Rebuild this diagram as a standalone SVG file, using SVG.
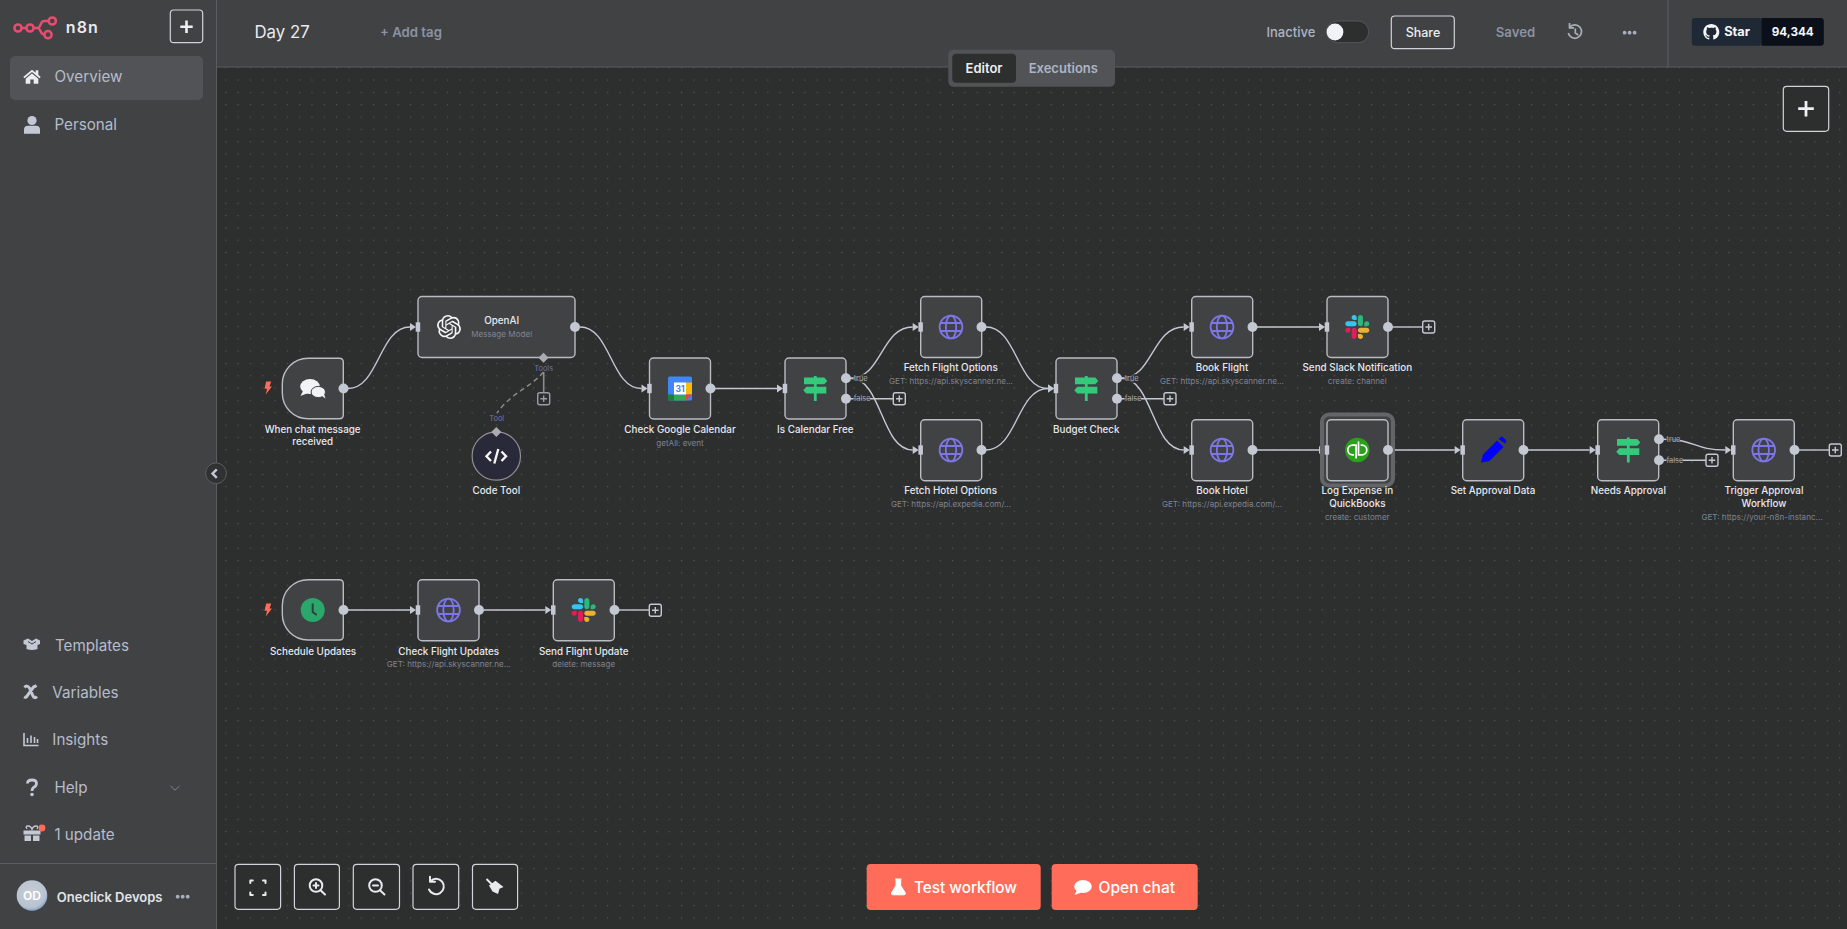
<svg xmlns="http://www.w3.org/2000/svg" width="1847" height="929" viewBox="0 0 1847 929">
<style>
text{font-family:Inter,"Liberation Sans",sans-serif}
.n{fill:#414244;stroke:#b9bcc3;stroke-width:1.4}
.l{font-size:9.85px;font-weight:500;fill:#e6e8ee;text-anchor:middle}
.s{font-size:8.1px;fill:#7f8594;text-anchor:middle}
.o{fill:#c4c8d2}
.h{fill:#c4c8d2}
.e{fill:none;stroke:#c4c8d2;stroke-width:1.4;marker-end:url(#tri)}
.p{fill:none;stroke:#c4c8d2;stroke-width:1.4}
.pb{fill:#2d2e2e;stroke:#c4c8d2;stroke-width:1.4}
.t{font-size:7.4px;fill:#a4a7b0}
.tb{fill:#2d2e2e;opacity:.75}
.m{font-size:15.2px;fill:#b6bccb}
.btn{fill:#2d2e2e;stroke:#d0d3d9;stroke-width:1.2}
.ic{fill:none;stroke:#e8eaf0;stroke-width:2;stroke-linecap:round;stroke-linejoin:round}
.si{fill:#c4c8d4}
</style>
<defs>
<pattern id="dots" x="225.2" y="79.5" width="12.32" height="12.32" patternUnits="userSpaceOnUse"><circle cx="0.6" cy="0.6" r="0.6" fill="#5f6063"/></pattern>
<marker id="tri" markerUnits="userSpaceOnUse" markerWidth="7" markerHeight="10" refX="0.5" refY="5" orient="auto"><path d="M0.5 1L6.5 5L0.5 9Z" fill="#c4c8d2"/></marker>
<radialGradient id="av" cx="0.45" cy="0.4" r="0.7"><stop offset="0" stop-color="#c9ccd2"/><stop offset="0.7" stop-color="#b8c3d2"/><stop offset="1" stop-color="#5a87b8"/></radialGradient>
<g id="i-sign" fill="#35c97c"><rect x="-1.4" y="-12.5" width="2.8" height="25"/><path d="M-11.3 -10.8Q-11.3 -11 -11 -11H9L12 -7.6L9 -4.3H-11Q-11.3 -4.3 -11.3 -4.6Z"/><path d="M11 -1.4Q11 -1.7 10.7 -1.7H-9L-12 1.7L-9 5H10.7Q11 5 11 4.7Z"/></g>
<g id="i-globe" fill="none" stroke="#7d76e6" stroke-width="1.8"><circle r="11.4"/><ellipse rx="5.2" ry="11.4"/><path d="M-10.6 -4H10.6M-10.6 4H10.6"/></g>
<g id="i-slack" transform="translate(-12,-12) scale(0.1954)"><path d="M25.8 77.6c0 7.1-5.8 12.9-12.9 12.9S0 84.7 0 77.6s5.8-12.9 12.9-12.9h12.9v12.9z" fill="#E01E5A"/><path d="M32.3 77.6c0-7.1 5.8-12.9 12.9-12.9s12.9 5.8 12.9 12.9v32.3c0 7.1-5.8 12.9-12.9 12.9s-12.9-5.8-12.9-12.9V77.6z" fill="#E01E5A"/><path d="M45.2 25.8c-7.1 0-12.9-5.8-12.9-12.9S38.1 0 45.2 0s12.9 5.8 12.9 12.9v12.9H45.2z" fill="#36C5F0"/><path d="M45.2 32.3c7.1 0 12.9 5.8 12.9 12.9s-5.8 12.9-12.9 12.9H12.9C5.8 58.1 0 52.3 0 45.2s5.8-12.9 12.9-12.9h32.3z" fill="#36C5F0"/><path d="M97 45.2c0-7.1 5.8-12.9 12.9-12.9s12.9 5.8 12.9 12.9-5.8 12.9-12.9 12.9H97V45.2z" fill="#2EB67D"/><path d="M90.5 45.2c0 7.1-5.8 12.9-12.9 12.9s-12.9-5.8-12.9-12.9V12.9C64.7 5.8 70.5 0 77.6 0s12.9 5.8 12.9 12.9v32.3z" fill="#2EB67D"/><path d="M77.6 97c7.1 0 12.9 5.8 12.9 12.9s-5.8 12.9-12.9 12.9-12.9-5.8-12.9-12.9V97h12.9z" fill="#ECB22E"/><path d="M77.6 90.5c-7.1 0-12.9-5.8-12.9-12.9s5.8-12.9 12.9-12.9h32.3c7.1 0 12.9 5.8 12.9 12.9s-5.8 12.9-12.9 12.9H77.6z" fill="#ECB22E"/></g>
<path id="i-bolt" d="M-1.5 -6.5H3.5L1.8 -1.5H4.2L-2 6.5L-0.6 0.8H-3.2Z" fill="#ff6d5a"/>
<g id="plus"><rect x="-6" y="-6" width="12" height="12" rx="2"/><path d="M-3.3 0H3.3M0 -3.3V3.3" fill="none"/></g>
</defs>

<rect id="canvas" x="216" y="67" width="1631" height="862" fill="#2d2e2e"/>
<rect x="216" y="67" width="1631" height="862" fill="url(#dots)"/>

<g id="connectors">
<path class="e" d="M348 388.5C379 388.5 379 327 410 327"/>
<path class="e" d="M580 327C611 327 610.5 388.5 641.5 388.5"/>
<path class="e" d="M715 388.5H777"/>
<path class="e" d="M850.5 378.3C882 378.3 881 327 912.7 327"/>
<path class="e" d="M850.5 378.3C882 378.3 881 450 912.7 450"/>
<path class="p" d="M850.5 398.7H893"/>
<path class="e" d="M986 327C1017 327 1017 388.5 1048 388.5"/>
<path class="e" d="M986 450C1017 450 1017 388.5 1048 388.5"/>
<path class="e" d="M1121.5 378.3C1153 378.3 1152 327 1183.7 327"/>
<path class="e" d="M1121.5 378.3C1153 378.3 1152 450 1183.7 450"/>
<path class="p" d="M1121.5 398.7H1164"/>
<path class="e" d="M1257 327H1319"/>
<path class="p" d="M1392.5 327H1422.5"/>
<path class="e" d="M1257 450H1319"/>
<path class="e" d="M1392.5 450H1454.7"/>
<path class="e" d="M1528 450H1589.7"/>
<path class="e" d="M1663.5 439.3C1695 439.3 1694 450 1725.3 450"/>
<path class="p" d="M1663.5 460.3H1706"/>
<path class="p" d="M1799 450H1829"/>
<path class="e" d="M348 610H410"/>
<path class="e" d="M484 610H545.3"/>
<path class="p" d="M619 610H649"/>
<path d="M543.7 372V392" fill="none" stroke="#8a8c92" stroke-width="1.6"/>
<path d="M543.5 372C530 388 512 392 497 413" fill="none" stroke="#8a8c92" stroke-width="1.4" stroke-dasharray="5 3.5"/>
<rect class="tb" x="853.5" y="374" width="13.5" height="9"/><text class="t" x="853.7" y="381">true</text>
<rect class="tb" x="853.5" y="394.4" width="16.5" height="9"/><text class="t" x="853.7" y="401.4">false</text>
<rect class="tb" x="1124.5" y="374" width="13.5" height="9"/><text class="t" x="1124.7" y="381">true</text>
<rect class="tb" x="1124.5" y="394.4" width="16.5" height="9"/><text class="t" x="1124.7" y="401.4">false</text>
<rect class="tb" x="1666.3" y="435" width="13.5" height="9"/><text class="t" x="1666.5" y="442">true</text>
<rect class="tb" x="1666.3" y="456" width="16.5" height="9"/><text class="t" x="1666.5" y="463">false</text>
<g fill="#2d2e2e" stroke="#9a9da4" stroke-width="1.4"><use href="#plus" x="543.7" y="398.7"/></g>
<g class="pb"><use href="#plus" x="899.3" y="398.7"/><use href="#plus" x="1170" y="398.7"/><use href="#plus" x="1428.7" y="327"/><use href="#plus" x="1712" y="460.3"/><use href="#plus" x="1835.3" y="450"/><use href="#plus" x="655.3" y="610.3"/></g>
<text x="543.7" y="371" text-anchor="middle" font-size="7.4" fill="#7472a8">Tools</text>
<text x="496.7" y="421" text-anchor="middle" font-size="7.4" fill="#7472a8">Tool</text>
</g>

<g id="node-chat">
<use href="#i-bolt" x="267.7" y="388"/>
<path class="n" d="M308 358.3H339.3Q343.3 358.3 343.3 362.3V414.7Q343.3 418.7 339.3 418.7H308A25.7 25.7 0 0 1 282.3 393V384A25.7 25.7 0 0 1 308 358.3Z"/>
<ellipse cx="310" cy="386.5" rx="9.8" ry="7.4" fill="#f2f3f6"/><path d="M303 391L300.5 396L308 393Z" fill="#f2f3f6"/>
<ellipse cx="318.3" cy="392" rx="7.2" ry="5.6" fill="#f2f3f6" stroke="#414244" stroke-width="1"/><path d="M322 396L325.5 398.5L324 394Z" fill="#f2f3f6"/>
<circle class="o" cx="343.5" cy="388.5" r="5"/>
<text class="l" x="312.7" y="433">When chat message</text><text class="l" x="312.7" y="445">received</text>
</g>
<g id="node-openai">
<rect class="n" x="418" y="296.5" width="157" height="61" rx="4"/>
<rect class="h" x="415.7" y="322.3" width="4.5" height="9.4"/>
<path transform="translate(437,315)" fill="#f4f5f7" d="M22.2819 9.8211a5.9847 5.9847 0 0 0-.5157-4.9108 6.0462 6.0462 0 0 0-6.5098-2.9A6.0651 6.0651 0 0 0 4.9807 4.1818a5.9847 5.9847 0 0 0-3.9977 2.9 6.0462 6.0462 0 0 0 .7427 7.0966 5.98 5.98 0 0 0 .511 4.9107 6.051 6.051 0 0 0 6.5146 2.9001A5.9847 5.9847 0 0 0 13.2599 24a6.0557 6.0557 0 0 0 5.7718-4.2058 5.9894 5.9894 0 0 0 3.9977-2.9001 6.0557 6.0557 0 0 0-.7475-7.0729zm-9.022 12.6081a4.4755 4.4755 0 0 1-2.8764-1.0408l.1419-.0804 4.7783-2.7582a.7948.7948 0 0 0 .3927-.6813v-6.7369l2.02 1.1686a.071.071 0 0 1 .038.052v5.5826a4.504 4.504 0 0 1-4.4945 4.4944zm-9.6607-4.1254a4.4708 4.4708 0 0 1-.5346-3.0137l.142.0852 4.783 2.7582a.7712.7712 0 0 0 .7806 0l5.8428-3.3685v2.3324a.0804.0804 0 0 1-.0332.0615L9.74 19.9502a4.4992 4.4992 0 0 1-6.1408-1.6464zM2.3408 7.8956a4.485 4.485 0 0 1 2.3655-1.9728V11.6a.7664.7664 0 0 0 .3879.6765l5.8144 3.3543-2.0201 1.1685a.0757.0757 0 0 1-.071 0l-4.8303-2.7865A4.504 4.504 0 0 1 2.3408 7.872zm16.5963 3.8558L13.1038 8.364 15.1192 7.2a.0757.0757 0 0 1 .071 0l4.8303 2.7913a4.4944 4.4944 0 0 1-.6765 8.1042v-5.6772a.79.79 0 0 0-.407-.667zm2.0107-3.0231l-.142-.0852-4.7735-2.7818a.7759.7759 0 0 0-.7854 0L9.409 9.2297V6.8974a.0662.0662 0 0 1 .0284-.0615l4.8303-2.7866a4.4992 4.4992 0 0 1 6.6802 4.66zM8.3065 12.863l-2.02-1.1638a.0804.0804 0 0 1-.038-.0567V6.0742a4.4992 4.4992 0 0 1 7.3757-3.4537l-.142.0805L8.704 5.459a.7948.7948 0 0 0-.3927.6813zm1.0976-2.3654l2.602-1.4998 2.6069 1.4998v2.9994l-2.5974 1.4997-2.6067-1.4997Z"/>
<circle class="o" cx="575" cy="327" r="5"/>
<path d="M543.5 352.7L548.5 357.7L543.5 362.7L538.5 357.7Z" fill="#a9acb3"/>
<text class="l" x="501.7" y="324">OpenAI</text><text class="s" x="501.7" y="337">Message Model</text>
</g>
<g id="node-code-tool">
<circle cx="496.3" cy="456" r="24.2" fill="#282a3a" stroke="#8f9094" stroke-width="1.2"/>
<path d="M491 451.5L486.5 456.3L491 461M501.5 451.5L506 456.3L501.5 461M498.3 449L494.3 463.5" fill="none" stroke="#f4f5f7" stroke-width="2.4"/>
<path d="M496.3 427L501.3 432L496.3 437L491.3 432Z" fill="#a9acb3"/>
<text class="l" x="496.3" y="494">Code Tool</text>
</g>
<g id="node-gcal">
<rect class="n" x="649.5" y="358" width="61" height="61" rx="4"/>
<rect class="h" x="647.2" y="383.8" width="4.5" height="9.4"/>
<rect x="668" y="376.5" width="24" height="24" rx="1.5" fill="#4285f4"/>
<rect x="686" y="382.5" width="6" height="12" fill="#fbbc04"/>
<rect x="674" y="394.5" width="12" height="6" fill="#34a853"/>
<path d="M668 394.5H674V400.5H669.5Q668 400.5 668 399Z" fill="#188038"/>
<path d="M686 394.5H692L686 400.5Z" fill="#ea4335"/>
<rect x="674" y="382.5" width="12" height="12" fill="#fff"/>
<text x="680" y="391.8" text-anchor="middle" font-size="8.5" font-weight="700" fill="#4285f4">31</text>
<circle class="o" cx="710.5" cy="388.5" r="5"/>
<text class="l" x="680" y="433">Check Google Calendar</text><text class="s" x="680" y="446">getAll: event</text>
</g>
<g id="node-calendar-free">
<rect class="n" x="785" y="358" width="61" height="61" rx="4"/>
<rect class="h" x="782.7" y="383.8" width="4.5" height="9.4"/>
<use href="#i-sign" x="815.3" y="388.5"/>
<circle class="o" cx="846" cy="378.3" r="5"/><circle class="o" cx="846" cy="398.7" r="5"/>
<text class="l" x="815.3" y="433">Is Calendar Free</text>
</g>
<g id="node-fetch-flight">
<rect class="n" x="920.7" y="296.5" width="61" height="61" rx="4"/>
<rect class="h" x="918.4" y="322.3" width="4.5" height="9.4"/>
<use href="#i-globe" x="951" y="327"/>
<circle class="o" cx="981.5" cy="327" r="5"/>
<text class="l" x="950.7" y="371">Fetch Flight Options</text><text class="s" x="951" y="384">GET: https://api.skyscanner.ne...</text>
</g>
<g id="node-fetch-hotel">
<rect class="n" x="920.7" y="419.7" width="61" height="61" rx="4"/>
<rect class="h" x="918.4" y="445.3" width="4.5" height="9.4"/>
<use href="#i-globe" x="951" y="450"/>
<circle class="o" cx="981.5" cy="450" r="5"/>
<text class="l" x="950.7" y="494">Fetch Hotel Options</text><text class="s" x="951" y="507">GET: https://api.expedia.com/...</text>
</g>
<g id="node-budget">
<rect class="n" x="1056" y="358" width="61" height="61" rx="4"/>
<rect class="h" x="1053.7" y="383.8" width="4.5" height="9.4"/>
<use href="#i-sign" x="1086.3" y="388.5"/>
<circle class="o" cx="1117" cy="378.3" r="5"/><circle class="o" cx="1117" cy="398.7" r="5"/>
<text class="l" x="1086.3" y="433">Budget Check</text>
</g>
<g id="node-book-flight">
<rect class="n" x="1191.7" y="296.5" width="61" height="61" rx="4"/>
<rect class="h" x="1189.4" y="322.3" width="4.5" height="9.4"/>
<use href="#i-globe" x="1222" y="327"/>
<circle class="o" cx="1252.5" cy="327" r="5"/>
<text class="l" x="1222" y="371">Book Flight</text><text class="s" x="1222" y="384">GET: https://api.skyscanner.ne...</text>
</g>
<g id="node-slack-notify">
<rect class="n" x="1327" y="296.5" width="61" height="61" rx="4"/>
<rect class="h" x="1324.7" y="322.3" width="4.5" height="9.4"/>
<use href="#i-slack" x="1357.3" y="327"/>
<circle class="o" cx="1388" cy="327" r="5"/>
<text class="l" x="1357.3" y="371">Send Slack Notification</text><text class="s" x="1357.3" y="384">create: channel</text>
</g>
<g id="node-book-hotel">
<rect class="n" x="1191.7" y="419.7" width="61" height="61" rx="4"/>
<rect class="h" x="1189.4" y="445.3" width="4.5" height="9.4"/>
<use href="#i-globe" x="1222" y="450"/>
<circle class="o" cx="1252.5" cy="450" r="5"/>
<text class="l" x="1222" y="494">Book Hotel</text><text class="s" x="1222" y="507">GET: https://api.expedia.com/...</text>
</g>
<g id="node-quickbooks">
<rect x="1322" y="414.5" width="71" height="71" rx="7" fill="#414244" stroke="#646568" stroke-width="4"/>
<rect class="n" x="1327" y="419.7" width="61" height="61" rx="4"/>
<rect class="h" x="1324.7" y="445.3" width="4.5" height="9.4"/>
<circle cx="1357.3" cy="450" r="12.2" fill="#2ca01c"/>
<path d="M1356.1 458.5V445.2H1352.6A4.8 4.8 0 0 0 1352.6 454.8H1354M1358.5 441.5V454.8H1362A4.8 4.8 0 0 0 1362 445.2H1360.6" fill="none" stroke="#fff" stroke-width="1.7"/>
<circle class="o" cx="1388" cy="450" r="5"/>
<text class="l" x="1357.3" y="494">Log Expense in</text><text class="l" x="1357.3" y="507">QuickBooks</text><text class="s" x="1357.3" y="520">create: customer</text>
</g>
<g id="node-set-approval">
<rect class="n" x="1462.7" y="419.7" width="61" height="61" rx="4"/>
<rect class="h" x="1460.4" y="445.3" width="4.5" height="9.4"/>
<path d="M1481 462.5L1483 454.5L1497 440.5L1503.5 447L1489.5 461L1481 462.5ZM1498.5 439L1500.5 437.2Q1501.8 436 1503 437.2L1505.8 440Q1507 441.3 1505.8 442.5L1505 443.5Z" fill="#0000ff"/>
<circle class="o" cx="1523.5" cy="450" r="5"/>
<text class="l" x="1493" y="494">Set Approval Data</text>
</g>
<g id="node-needs-approval">
<rect class="n" x="1597.7" y="419.7" width="61" height="61" rx="4"/>
<rect class="h" x="1595.4" y="445.3" width="4.5" height="9.4"/>
<use href="#i-sign" x="1628.3" y="450"/>
<circle class="o" cx="1659" cy="439.3" r="5"/><circle class="o" cx="1659" cy="460.3" r="5"/>
<text class="l" x="1628.3" y="494">Needs Approval</text>
</g>
<g id="node-trigger-approval">
<rect class="n" x="1733.3" y="419.7" width="61" height="61" rx="4"/>
<rect class="h" x="1731" y="445.3" width="4.5" height="9.4"/>
<use href="#i-globe" x="1763.7" y="450"/>
<circle class="o" cx="1794.5" cy="450" r="5"/>
<text class="l" x="1764" y="494">Trigger Approval</text><text class="l" x="1764" y="507">Workflow</text><text class="s" x="1762" y="520">GET: https://your-n8n-instanc...</text>
</g>
<g id="node-schedule">
<use href="#i-bolt" x="267.7" y="610"/>
<path class="n" d="M308 579.7H339.3Q343.3 579.7 343.3 583.7V636Q343.3 640 339.3 640H308A25.7 25.7 0 0 1 282.3 614.3V605.4A25.7 25.7 0 0 1 308 579.7Z"/>
<circle cx="312.7" cy="610" r="12" fill="#2aa76a"/>
<path d="M312.7 603.5V612L316.7 615" fill="none" stroke="#3a3b3d" stroke-width="2"/>
<circle class="o" cx="343.5" cy="610" r="5"/>
<text class="l" x="313" y="655">Schedule Updates</text>
</g>
<g id="node-check-flight">
<rect class="n" x="418" y="579.7" width="61" height="61" rx="4"/>
<rect class="h" x="415.7" y="605.3" width="4.5" height="9.4"/>
<use href="#i-globe" x="448.5" y="610"/>
<circle class="o" cx="479" cy="610" r="5"/>
<text class="l" x="448.7" y="655">Check Flight Updates</text><text class="s" x="448.7" y="667">GET: https://api.skyscanner.ne...</text>
</g>
<g id="node-send-flight">
<rect class="n" x="553.3" y="579.7" width="61" height="61" rx="4"/>
<rect class="h" x="551" y="605.3" width="4.5" height="9.4"/>
<use href="#i-slack" x="583.7" y="610"/>
<circle class="o" cx="614.5" cy="610" r="5"/>
<text class="l" x="583.7" y="655">Send Flight Update</text><text class="s" x="583.7" y="667">delete: message</text>
</g>

<g id="header">
<rect x="216" y="0" width="1631" height="67" fill="#414244"/>
<path d="M216 67H1847" stroke="#5c5d60" stroke-width="1"/>
<path d="M1668 0V67" stroke="#5c5d60" stroke-width="1"/>
<text x="254.5" y="38" font-size="16.8" fill="#e9ebf1">Day 27</text>
<text x="380" y="37" font-size="13.2" font-weight="600" fill="#8a92a4">+ Add tag</text>
<text x="1266.5" y="37" font-size="13" font-weight="500" fill="#aeb4c4">Inactive</text>
<rect x="1326.4" y="21" width="42.3" height="21.7" rx="10.8" fill="#2d2e2e" stroke="#555659"/>
<circle cx="1335" cy="32" r="8.4" fill="#f2f3f9"/>
<rect x="1391.3" y="16" width="63" height="32.7" rx="3.5" fill="none" stroke="#d0d3d9" stroke-width="1.2"/>
<text x="1423" y="37.3" font-size="12.5" font-weight="500" text-anchor="middle" fill="#eceef3">Share</text>
<text x="1495.8" y="37" font-size="13.2" font-weight="600" fill="#8a92a4">Saved</text>
<path d="M1569.5 27.5A6.7 6.7 0 1 1 1568.3 33M1569.5 23V27.8H1574M1575.3 28.5V33L1578.3 35" fill="none" stroke="#a8aebb" stroke-width="1.7"/>
<circle cx="1624.6" cy="32.7" r="1.9" fill="#a8aebb"/><circle cx="1629.6" cy="32.7" r="1.9" fill="#a8aebb"/><circle cx="1634.6" cy="32.7" r="1.9" fill="#a8aebb"/>
<rect x="1691.8" y="18" width="70" height="27.7" rx="3" fill="#1e2935"/>
<path d="M1761.6 18H1820.8Q1823.8 18 1823.8 21V42.7Q1823.8 45.7 1820.8 45.7H1761.6Z" fill="#0a0f19"/>
<path transform="translate(1703.3,23.7) scale(0.667)" fill="#f4f6f9" d="M12 .297c-6.63 0-12 5.373-12 12 0 5.303 3.438 9.8 8.205 11.385.6.113.82-.258.82-.577 0-.285-.01-1.04-.015-2.04-3.338.724-4.042-1.61-4.042-1.61C4.422 18.07 3.633 17.7 3.633 17.7c-1.087-.744.084-.729.084-.729 1.205.084 1.838 1.236 1.838 1.236 1.07 1.835 2.809 1.305 3.495.998.108-.776.417-1.305.76-1.605-2.665-.3-5.466-1.332-5.466-5.93 0-1.31.465-2.38 1.235-3.22-.135-.303-.54-1.523.105-3.176 0 0 1.005-.322 3.3 1.23.96-.267 1.98-.399 3-.405 1.02.006 2.04.138 3 .405 2.28-1.552 3.285-1.23 3.285-1.23.645 1.653.24 2.873.12 3.176.765.84 1.23 1.91 1.23 3.22 0 4.61-2.805 5.625-5.475 5.92.42.36.81 1.096.81 2.22 0 1.606-.015 2.896-.015 3.286 0 .315.21.69.825.57C20.565 22.092 24 17.592 24 12.297c0-6.627-5.373-12-12-12"/>
<text x="1724.2" y="36.3" font-size="12.8" font-weight="700" fill="#f4f6f9">Star</text>
<text x="1792.7" y="36.3" font-size="11.7" font-weight="700" text-anchor="middle" fill="#f4f6f9">94,344</text>
<rect x="948.3" y="49.7" width="166.7" height="37" rx="5" fill="#525356"/>
<rect x="952.3" y="53.7" width="63.7" height="29" rx="4" fill="#2d2e2e"/>
<text x="984" y="73.3" font-size="13" font-weight="600" text-anchor="middle" fill="#eceef3">Editor</text>
<text x="1063.3" y="73.3" font-size="13" font-weight="600" text-anchor="middle" fill="#aeb4c4">Executions</text>
</g>

<g id="sidebar">
<rect x="0" y="0" width="216" height="929" fill="#414244"/>
<path d="M216.5 0V929" stroke="#5c5d60" stroke-width="1"/>
<g fill="none" stroke="#ea4b71" stroke-width="2.5"><circle cx="18" cy="28" r="3.6"/><circle cx="30" cy="28" r="3.6"/><circle cx="52.3" cy="21" r="3.6"/><circle cx="48" cy="34.7" r="3.6"/><path d="M21.6 28H26.4M33.6 28H37.5C41 28 40 21 44 21H48.7M37.5 28C41 28 40 34.7 44.4 34.7"/></g>
<text x="65.7" y="32.5" font-size="16" font-weight="600" letter-spacing="1.2" fill="#e8e9ee">n8n</text>
<rect x="170.3" y="10" width="32.4" height="32.7" rx="3.5" fill="none" stroke="#d0d3d9" stroke-width="1.2"/>
<path d="M186.5 20.5V33M180.3 26.7H192.7" stroke="#eef0f4" stroke-width="2.6"/>
<rect x="10" y="56" width="193" height="44" rx="5" fill="#525356"/>
<path d="M23.3 77L32 69.7L35.7 72.7V70.3H38.3V74.8L40.7 77L39.5 78.2L32 72L24.5 78.2ZM25.7 78.8L32 73.5L38.3 78.8V83.7H33.7V79.5H30.3V83.7H25.7Z" fill="#eceef3"/>
<text class="m" x="54.5" y="82.3">Overview</text>
<circle class="si" cx="32" cy="120.5" r="4.6"/><path class="si" d="M24 130Q24 125.8 28 125.8H36Q40 125.8 40 130V133.8H24Z"/>
<text class="m" x="54.5" y="130.3">Personal</text>
<path class="si" d="M23.5 640.5L28 638.5L32 641L36 638.5L40 640.5V644L37.5 645V649Q32 651 26.5 649V645L23.5 644Z"/>
<path d="M28 641.5L32 644L36 641.5" fill="none" stroke="#414244" stroke-width="1"/>
<text class="m" x="55" y="650.5">Templates</text>
<path d="M24.5 687.5Q27 684.5 29.5 688L33 696Q34.5 699 37 696.5M36.5 685.5Q35 686.5 33.5 687L27 696Q26 698 24 697" fill="none" stroke="#c4c8d4" stroke-width="3"/>
<text class="m" x="52.3" y="697.5">Variables</text>
<path d="M24 733V745.5H38.5M27.5 743V738M31 743V735.5M34.5 743V737M37.5 743V739" fill="none" stroke="#c4c8d4" stroke-width="1.6"/>
<text class="m" x="52.3" y="744.8">Insights</text>
<path d="M27.5 783.5Q27.5 780 32 780Q36.5 780 36.5 783.5Q36.5 786 33.5 787.5Q32 788.5 32 791" fill="none" stroke="#c4c8d4" stroke-width="2.8"/><circle class="si" cx="32" cy="794.5" r="1.8"/>
<text class="m" x="54.4" y="792.8">Help</text>
<path d="M170.5 786L175 790.2L179.5 786" fill="none" stroke="#7c8290" stroke-width="1"/>
<path class="si" d="M23.5 830.5H40.5V834.5H23.5ZM24.5 835.5H31V841H24.5ZM33 835.5H39.5V841H33Z"/><path d="M27 829Q25 826 28 826Q31 826 32 829.5Q33 826 36 826Q39 826 37 829" fill="none" stroke="#c4c8d4" stroke-width="1.3"/>
<circle cx="42" cy="828" r="3.4" fill="#ff6d5a"/>
<text class="m" x="54.4" y="839.8">1 update</text>
<path d="M0 863.5H216" stroke="#5c5d60" stroke-width="1"/>
<circle cx="32" cy="895.5" r="15.3" fill="url(#av)"/>
<text x="32" y="899.8" font-size="12" font-weight="600" text-anchor="middle" fill="#fff">OD</text>
<text x="56.8" y="901.5" font-size="13" font-weight="600" fill="#e2e4ea">Oneclick Devops</text>
<circle cx="177.7" cy="896.7" r="1.9" fill="#a8aebb"/><circle cx="182.7" cy="896.7" r="1.9" fill="#a8aebb"/><circle cx="187.7" cy="896.7" r="1.9" fill="#a8aebb"/>
</g>
<g id="collapse"><circle cx="216" cy="473.3" r="10.4" fill="#303132" stroke="#5c5d60" stroke-width="1"/><path d="M216.8 469.3L212.5 473.6L216.8 477.9" fill="none" stroke="#c4c8d4" stroke-width="2.4"/></g>

<g id="canvas-controls">
<rect class="btn" x="235" y="864.3" width="45.6" height="45" rx="3.5"/>
<path class="ic" d="M250.3 883V880.5H252.8M263 880.5H265.5V883M265.5 892.5V895H263M252.8 895H250.3V892.5"/>
<rect class="btn" x="294.4" y="864.3" width="45" height="45" rx="3.5"/>
<circle class="ic" cx="316" cy="885.5" r="6.3"/><path class="ic" d="M320.6 890.2L325 894.5M313.5 885.5H318.5M316 883V888"/>
<rect class="btn" x="353.3" y="864.3" width="46.2" height="45" rx="3.5"/>
<circle class="ic" cx="375.5" cy="885.5" r="6.3"/><path class="ic" d="M380 890.2L384.5 894.5M373 885.5H378"/>
<rect class="btn" x="413" y="864.3" width="45.7" height="45" rx="3.5"/>
<path class="ic" d="M430.5 881.2A7.7 7.7 0 1 1 429 889.5M430 876.7V881.7H435"/>
<rect class="btn" x="472.5" y="864.3" width="45.1" height="45" rx="3.5"/>
<path d="M486.5 879L492 884.5" stroke="#e8eaf0" stroke-width="2"/><path d="M489 885.5L495.5 880.8L503.5 887L499.5 888.8L498 894L492.5 891.5Z" fill="#e8eaf0"/>
<rect x="1783.3" y="86.3" width="45.4" height="45" rx="3.5" fill="#2d2e2e" stroke="#d0d3d9" stroke-width="1.2"/>
<path d="M1806 101V116.5M1798.2 108.7H1813.8" stroke="#eef0f4" stroke-width="2.8"/>
</g>
<g id="run-buttons">
<rect x="866.7" y="864" width="174" height="46" rx="4" fill="#ff6d5a"/>
<path d="M895 879H901.5M896 879.5V885.5L891.5 893Q891 894.8 893 894.8H903.8Q905.8 894.8 905.3 893L900.7 885.5V879.5Z" fill="#fff" stroke="#fff" stroke-width="1"/>
<text x="914" y="892.5" font-size="15.3" font-weight="500" fill="#fff">Test workflow</text>
<rect x="1051.7" y="864" width="146" height="46" rx="4" fill="#ff6d5a"/>
<ellipse cx="1083" cy="886.5" rx="8.8" ry="6.5" fill="#fff"/><path d="M1077 890L1074.5 895L1081.5 892.5Z" fill="#fff"/>
<text x="1098.6" y="892.5" font-size="15.5" font-weight="500" fill="#fff">Open chat</text>
</g>
</svg>
